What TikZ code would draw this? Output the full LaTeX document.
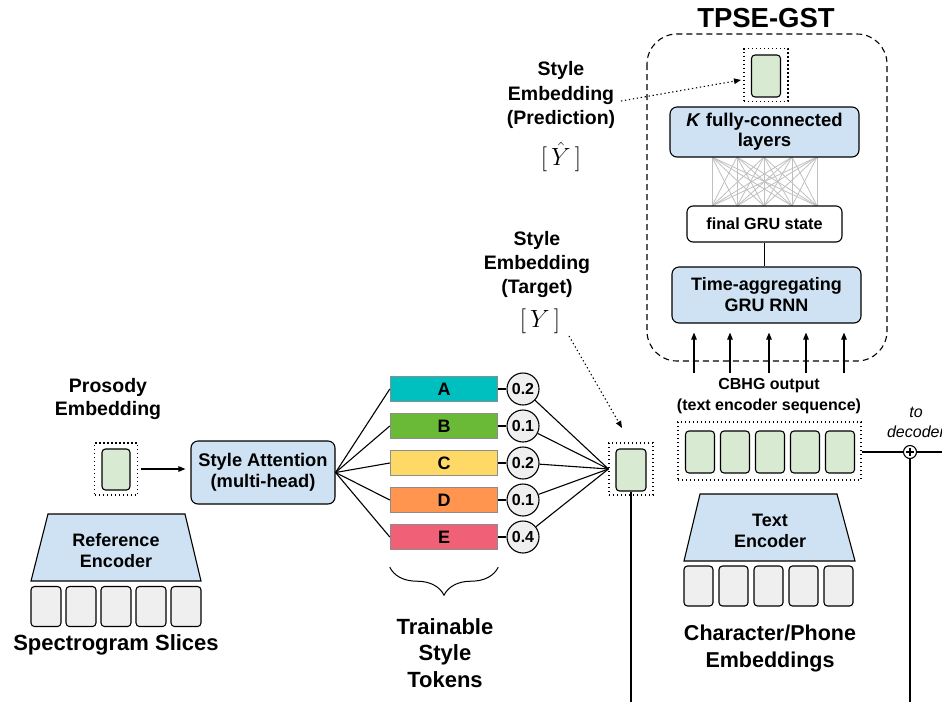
\documentclass[tikz,border=0pt]{standalone}
\usepackage{fontspec}
\setmainfont{Liberation Sans}
\usetikzlibrary{calc,arrows.meta,decorations.pathreplacing}
\definecolor{encblue}{HTML}{CFE2F3}
\definecolor{embgreen}{HTML}{D9EAD3}
\definecolor{slicegray}{HTML}{EFEFEF}
\definecolor{tokA}{HTML}{00BFBF}
\definecolor{tokB}{HTML}{6ABA37}
\definecolor{tokC}{HTML}{FFD966}
\definecolor{tokD}{HTML}{FF954F}
\definecolor{tokE}{HTML}{F06178}
\newcommand{\fsz}[2]{\fontsize{#1}{#2}\selectfont\bfseries}

\begin{document}
\begin{tikzpicture}[x=1pt,y=-1pt,line width=1.1pt,
    lbl/.style={align=center,font=\fsz{18}{21}},
    bluebox/.style={draw,rounded corners=7pt,fill=encblue,align=center,inner sep=2pt},
    cell/.style={draw,rounded corners=3.5pt,minimum width=28,minimum height=41,inner sep=0pt},
    embcell/.style={cell,fill=embgreen},
    slice/.style={cell,fill=slicegray,minimum width=30,minimum height=40},
    dotbox/.style={draw,dash pattern=on 1.3pt off 2.7pt,inner sep=0pt},
    token/.style={draw=black!45,line width=1.4pt,minimum width=107,minimum height=25,inner sep=0pt,font=\fsz{18}{21}},
    weight/.style={circle,draw,fill=slicegray,minimum size=32,inner sep=0pt,font=\fsz{16}{18}},
    arr/.style={-{Triangle[length=7pt,width=5.5pt]}},
    dotarr/.style={dash pattern=on 1.3pt off 2.7pt,-{Triangle[length=7pt,width=5.5pt]}},
  ]
  \useasboundingbox (0,0) rectangle (942,702);
  \clip (0,0) rectangle (942,702);

  % TPSE-GST part
  \node[font=\fsz{27.5}{30}] (title) at (766,18) {TPSE-GST};
  \draw[dash pattern=on 6pt off 4pt,rounded corners=30pt] (647,34) rectangle (887,361);
  \node[dotbox,minimum width=44,minimum height=53] (predbox) at (766,75) {};
  \node[embcell,minimum width=29,minimum height=42] (pred) at (766,76) {};
  \foreach \a in {712,737,764,792,817}
    \foreach \b in {712,737,764,792,817}
      \draw[gray!50,line width=0.8pt] (\a,157) -- (\b,206);
  \node[bluebox,minimum width=189,minimum height=50,font=\fsz{18.5}{20}] (fc) at (764.5,132) {\textit{K} fully-connected\\layers};
  \node[draw,rounded corners=6pt,fill=white,minimum width=155,minimum height=36,font=\fsz{16.2}{18}] (gru) at (764.5,224) {final GRU state};
  \node[bluebox,minimum width=189,minimum height=56,font=\fsz{18}{21}] (rnn) at (766.5,295) {Time-aggregating\\GRU RNN};
  \draw (gru.south) -- (gru.south |- rnn.north);
  \foreach \x in {694,730,769,806,844}
    \draw[arr,shorten >=9pt] (\x,373) -- (\x,0 |- rnn.south);

  % text encoder
  \node[align=center,font=\fsz{16}{21}] (cbhglbl) at (769,396) {CBHG output\\(text encoder sequence)};
  \node[dotbox,minimum width=183,minimum height=58] (cbhg) at (769.5,451) {};
  \foreach \i in {1,...,5}
    \node[embcell,minimum width=29,minimum height=42] (c\i) at (665+35*\i,452) {};
  \draw[fill=encblue] (700,494) -- (837,494) -- (855,561) -- (684,561) -- cycle;
  \node[lbl] (txtenc) at (770,531) {Text\\Encoder};
  \foreach \i in {1,...,5}
    \node[slice,minimum width=29] (t\i) at (663.5+35*\i,586) {};
  \node[align=center,font=\fsz{21.5}{27}] (charlbl) at (770,648) {Character/Phone\\Embeddings};

  % sum to decoder
  \node[circle,draw,fill=white,minimum size=13,inner sep=0pt] (sum) at (910,452) {};
  \draw[line width=1.3pt] ($(sum.center)+(-4,0)$) -- ($(sum.center)+(4,0)$)
    ($(sum.center)+(0,-4)$) -- ($(sum.center)+(0,4)$);
  \coordinate (dec) at (942,452);
  \coordinate (sumbot) at (910,702);
  \draw (cbhg.east |- sum) -- (sum) -- (dec);
  \draw (sum) -- (sumbot);
  \node[align=center,font=\itshape\fontsize{16}{20}\selectfont] (declbl) at (916,422) {to\\decoder};

  % reference encoder
  \node[align=center,font=\fsz{19.5}{23}] (proslbl) at (108,399) {Prosody\\Embedding};
  \node[dotbox,minimum width=43,minimum height=52] (prosbox) at (116,469) {};
  \node[embcell] (pros) at (116,469.5) {};
  \node[bluebox,minimum width=144,minimum height=63,font=\fsz{18.3}{20.5}] (attn) at (263,472.5) {Style Attention\\(multi-head)};
  \draw[arr,shorten <=3pt,shorten >=5pt] (prosbox.east) -- (prosbox.east -| attn.west);
  \draw[fill=encblue] (48,514) -- (185,514) -- (201,581) -- (31,581) -- cycle;
  \node[lbl] (refenc) at (116,551) {Reference\\Encoder};
  \foreach \i in {1,...,5}
    \node[slice] (s\i) at (11+35*\i,606.5) {};
  \node[font=\fsz{22}{26}] (speclbl) at (116,645) {Spectrogram Slices};

  % style tokens
  \node[dotbox,minimum width=44,minimum height=52] (tgtbox) at (631,469) {};
  \node[embcell,minimum width=30,minimum height=42] (tgt) at (631,470) {};
  \foreach \t/\c/\w [count=\i] in {A/tokA/0.2,B/tokB/0.1,C/tokC/0.2,D/tokD/0.1,E/tokE/0.4} {
    \node[token,fill=\c] (tok\i) at (444,352+37*\i) {\t};
    \node[weight] (w\i) at (523,352+37*\i) {\w};
    \draw (attn.east) -- (tok\i.west);
    \draw (tok\i) -- (w\i);
    \draw (w\i) -- (tgtbox.west);
  }
  \coordinate (tgtbot) at (631,702);
  \draw (tgt) -- (tgtbot);
  \draw[decorate,decoration={brace,mirror,amplitude=28pt},line width=1pt]
    ([yshift=-17pt]tok5.south west) -- ([yshift=-17pt]tok5.south east);
  \node[align=center,font=\fsz{22}{26.5}] (tstlbl) at (445,653) {Trainable\\Style\\Tokens};

  % style embeddings
  \node[align=center,font=\fsz{19.5}{24}] (tgtlbl) at (537,264) {Style\\Embedding\\(Target)};
  \node[font=\fontsize{24}{28}\selectfont] (tgtsym) at (540,321) {$[\,Y\,]$};
  \coordinate (tgtout) at (569,336);
  \coordinate (tgtin) at (622,428);
  \draw[dotarr] (tgtout) -- (tgtin);
  \node[align=center,font=\fsz{19.5}{24.5}] (predlbl) at (561,95) {Style\\Embedding\\(Prediction)};
  \node[font=\fontsize{23}{28}\selectfont,inner sep=1pt] (predsym) at (561,157) {$[\,\hat{Y}\,]$};
  \coordinate (predout) at (621,101);
  \coordinate (predin) at (741,80);
  \draw[dotarr] (predout) -- (predin);
\end{tikzpicture}
\end{document}
